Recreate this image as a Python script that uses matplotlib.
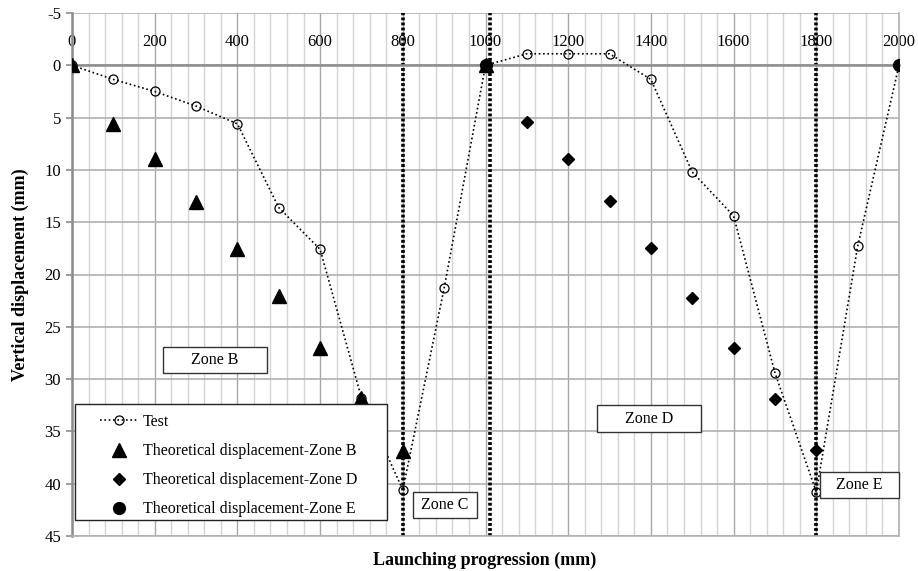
import numpy as np
import matplotlib
matplotlib.use("Agg")
import matplotlib.pyplot as plt
from matplotlib.patches import Rectangle
from matplotlib.lines import Line2D
from matplotlib.ticker import MultipleLocator

plt.rcParams["font.family"] = ["Liberation Serif", "DejaVu Serif"]
plt.rcParams["axes.unicode_minus"] = False

# ── Data ──────────────────────────────────────────────────────────────────────
test_x = [0, 100, 200, 300, 400, 500, 600, 700, 800, 900, 1000,
          1100, 1200, 1300, 1400, 1500, 1600, 1700, 1800, 1900, 2000]
test_y = [0, 1.35, 2.5, 3.9, 5.6, 13.6, 17.6, 31.8, 40.6, 21.3, 0,
          -1.1, -1.1, -1.1, 1.35, 10.2, 14.4, 29.4, 40.8, 17.3, 0]

zone_b_x = [0, 100, 200, 300, 400, 500, 600, 700, 800, 1000]
zone_b_y = [0, 5.6, 9.0, 13.1, 17.6, 22.1, 27.0, 31.8, 36.9, 0]

zone_d_x = [1100, 1200, 1300, 1400, 1500, 1600, 1700, 1800]
zone_d_y = [5.4, 9.0, 13.0, 17.5, 22.2, 27.0, 31.9, 36.8]

zone_e_x = [1000, 2000]
zone_e_y = [0, 0]

zone_limits = [800, 1010, 1800]

# zone label boxes: (text, x0, x1, y0, y1) in data units
zone_boxes = [
    ("Zone B", 220, 472, 26.9, 29.4),
    ("Zone C", 825, 979, 40.8, 43.3),
    ("Zone D", 1270, 1521, 32.5, 35.1),
    ("Zone E", 1809, 2000, 38.9, 41.4),
]

W, H = 918, 571

# ── Figure ────────────────────────────────────────────────────────────────────
fig = plt.figure(figsize=(W / 100, H / 100), dpi=100)
ax = fig.add_axes([72 / W, 1 - 536 / H, 827 / W, 523 / H])

ax.set_xlim(0, 2000)
ax.set_ylim(45, -5)

ax.xaxis.set_major_locator(MultipleLocator(200))
ax.xaxis.set_minor_locator(MultipleLocator(40))
ax.yaxis.set_major_locator(MultipleLocator(5))

ax.grid(which="major", axis="x", color="#a8a8a8", lw=1.0, zorder=0)
ax.grid(which="minor", axis="x", color="#d4d4d4", lw=1.0, zorder=0)
ax.grid(which="major", axis="y", color="#b0b0b0", lw=1.2, zorder=0)
ax.set_axisbelow(True)

# x axis drawn along y = 0 with labels above it
ax.xaxis.tick_top()
ax.spines["top"].set_position(("data", 0))
ax.spines["top"].set_color("#8c8c8c")
ax.spines["top"].set_linewidth(1.8)
ax.tick_params(axis="x", which="both", length=0, pad=11, labelsize=12)
ax.tick_params(axis="y", which="major", length=4, width=1.2, color="#8c8c8c",
               labelsize=12, pad=4)
ax.spines["left"].set_color("#8c8c8c")
ax.spines["left"].set_linewidth(1.8)
for side in ["right", "bottom"]:
    ax.spines[side].set_color("#b0b0b0")
    ax.spines[side].set_linewidth(1.2)

# zone boundaries
for xv in zone_limits:
    ax.axvline(xv, color="black", lw=2.6, ls=(0, (0.8, 0.6)), zorder=2)

# series
test_style = dict(color="black", lw=1.2, ls=(0, (1, 1.6)), marker="o", ms=6.5,
                  mfc="none", mec="black", mew=0.9)
b_style = dict(ls="none", marker="^", ms=9.5, color="black")
d_style = dict(ls="none", marker="D", ms=6, color="black")
e_style = dict(ls="none", marker="o", ms=8.5, color="black")

ax.plot(test_x, test_y, zorder=4, **test_style)
ax.plot(zone_b_x, zone_b_y, zorder=3, **b_style)
ax.plot(zone_d_x, zone_d_y, zorder=3, **d_style)
ax.plot(zone_e_x, zone_e_y, zorder=3, **e_style)

# zone label boxes
for label, x0, x1, y0, y1 in zone_boxes:
    ax.add_patch(Rectangle((x0, y0), x1 - x0, y1 - y0, facecolor="white",
                           edgecolor="#333333", lw=1.0, zorder=5, clip_on=False))
    ax.text((x0 + x1) / 2, (y0 + y1) / 2, label, ha="center", va="center",
            fontsize=11.5, zorder=6)

# legend: white framed box, entries placed inside it
ax.add_patch(Rectangle((75 / W, 1 - 520 / H), 312 / W, 116 / H,
                       transform=fig.transFigure, facecolor="white",
                       edgecolor="#222222", lw=1.0, zorder=6))
handles = [Line2D([], [], **test_style), Line2D([], [], **b_style),
           Line2D([], [], **d_style), Line2D([], [], **e_style)]
labels = ["Test",
          "Theoretical displacement-Zone B",
          "Theoretical displacement-Zone D",
          "Theoretical displacement-Zone E"]
leg = ax.legend(handles, labels, loc="upper left",
                bbox_to_anchor=(100 / W, 1 - 414 / H),
                bbox_transform=fig.transFigure, borderaxespad=0, borderpad=0,
                fontsize=11.5, frameon=False,
                handlelength=2.4, handletextpad=0.3, labelspacing=0.82)
leg.set_zorder(7)

fig.text(485 / W, 1 - 560 / H, "Launching progression (mm)",
         ha="center", va="center", fontsize=13, fontweight="bold")
fig.text(20 / W, 1 - 275 / H, "Vertical displacement (mm)",
         ha="center", va="center", rotation=90, fontsize=13, fontweight="bold")

fig.savefig("out.png", dpi=100)
